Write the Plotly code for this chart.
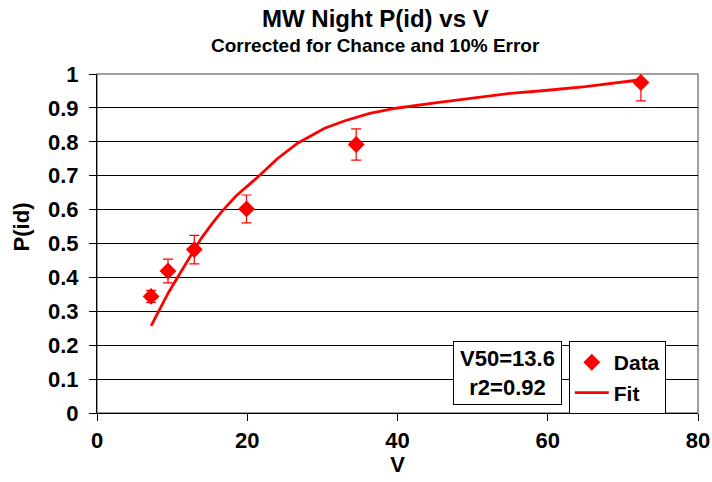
import plotly.graph_objects as go

# Data points
data_v = [7.2, 9.45, 12.95, 19.9, 34.5, 72.4]
data_p = [0.344, 0.419, 0.482, 0.602, 0.792, 0.975]
err_plus = [0.018, 0.035, 0.042, 0.041, 0.046, 0.04]
err_minus = [0.018, 0.035, 0.042, 0.041, 0.046, 0.054]

# Fit curve
fit_v = [7.2, 8.3, 9.5, 11, 12.5, 13.9, 15.3, 16.6, 18.5, 21.2, 24, 26.7, 30.3, 33, 36.3, 39.8, 45, 50, 55, 60, 65, 72.4]
fit_p = [0.257, 0.306, 0.355, 0.41, 0.465, 0.516, 0.558, 0.594, 0.64, 0.692, 0.75, 0.796, 0.84, 0.862, 0.884, 0.899, 0.915, 0.93, 0.943, 0.952, 0.963, 0.983]

x_ticks = [0, 20, 40, 60, 80]
y_ticks = [0, 0.1, 0.2, 0.3, 0.4, 0.5, 0.6, 0.7, 0.8, 0.9, 1]

FONT = "Liberation Sans, Arial, sans-serif"
RED = "#ff0000"

fig = go.Figure()
fig.add_trace(go.Scatter(
    x=data_v, y=data_p, mode="markers", name="Data", legendgroup="a",
    marker=dict(symbol="diamond", size=13, color=RED),
    error_y=dict(type="data", symmetric=False, array=err_plus, arrayminus=err_minus,
                 color=RED, thickness=1.2, width=5),
    cliponaxis=False,
))
fig.add_trace(go.Scatter(
    x=fit_v, y=fit_p, mode="lines", name="Fit", legendgroup="b",
    line=dict(color=RED, width=2.8),
))

fig.add_shape(type="rect", xref="paper", yref="paper", x0=0, x1=1, y0=0, y1=1,
              line=dict(color="#808080", width=1.5), layer="below")

fig.update_layout(
    width=712, height=482,
    margin=dict(l=97, r=14, t=74, b=69, autoexpand=False),
    paper_bgcolor="white", plot_bgcolor="white",
    font=dict(family=FONT, color="black"),
    showlegend=True,
    legend=dict(x=0.785, y=0.212, xanchor="left", yanchor="top",
                bgcolor="white", bordercolor="black", borderwidth=1,
                font=dict(family=FONT, size=21, color="black", weight="bold"),
                tracegroupgap=0, itemwidth=34),
    annotations=[
        dict(text="<b>MW Night P(id) vs V</b>", xref="paper", yref="paper",
             x=0.464, y=1.165, xanchor="center", yanchor="middle", showarrow=False,
             font=dict(size=24, family=FONT)),
        dict(text="<b>Corrected for Chance and 10% Error</b>", xref="paper", yref="paper",
             x=0.464, y=1.083, xanchor="center", yanchor="middle", showarrow=False,
             font=dict(size=19, family=FONT)),
        dict(text="<b>P(id)</b>", xref="paper", yref="paper",
             x=-0.125, y=0.55, xanchor="center", yanchor="middle", showarrow=False,
             textangle=-90, font=dict(size=22, family=FONT)),
        dict(text="<b>V50=13.6<br>r2=0.92</b>", xref="paper", yref="paper",
             x=0.683, y=0.118, xanchor="center", yanchor="middle", showarrow=False,
             bgcolor="white", bordercolor="black", borderwidth=1, borderpad=2,
             width=103, height=58, align="center",
             font=dict(size=22, family=FONT)),
    ],
)

fig.update_xaxes(
    range=[0, 80], tickvals=x_ticks, ticks="outside", ticklen=7, tickcolor="black",
    showline=True, linecolor="black", linewidth=1.2, showgrid=False, zeroline=False,
    automargin=False,
    tickfont=dict(size=22, family=FONT, weight="bold"),
    title=dict(text="<b>V</b>", font=dict(size=22, family=FONT), standoff=5),
)
fig.update_yaxes(
    range=[0, 1], tickvals=y_ticks, ticks="outside", ticklen=7, tickcolor="black",
    showline=True, linecolor="black", linewidth=1.2, showgrid=True,
    gridcolor="black", gridwidth=1, zeroline=False, automargin=False,
    ticklabelstandoff=6,
    tickfont=dict(size=22, family=FONT, weight="bold"),
)

fig.write_html("out.html")
